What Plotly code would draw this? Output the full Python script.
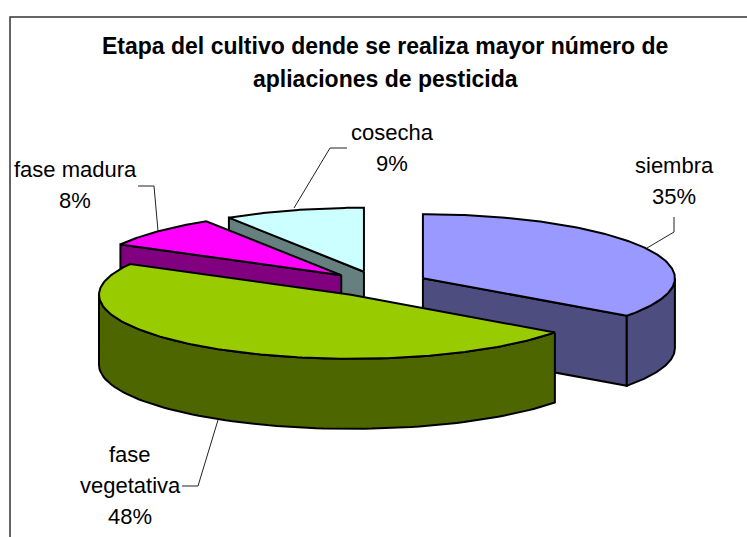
import numpy as np
import plotly.graph_objects as go

categories = ["siembra", "fase vegetativa", "fase madura", "cosecha"]
values = [35, 48, 8, 9]
top_colors = ["#9999FF", "#99CC00", "#FF00FF", "#CCFFFF"]
side_colors = ["#4D4D80", "#4D6600", "#800080", "#668080"]
draw_order = [3, 2, 0, 1]

label_lines = [["siembra"], ["fase", "vegetativa"], ["fase madura"], ["cosecha"]]
label_centers_x = [674, 130, 75, 392]
label_first_y = [165, 454, 169, 132]
line_gap = 31
leaders_x = [[674, 674, 647], [182, 198, 218], [138, 154, 158], [347, 330, 294]]
leaders_y = [[217, 232, 248], [486, 486, 420], [186, 186, 231], [148, 148, 208]]

title_lines = ["Etapa del cultivo dende se realiza mayor número de", "apliaciones de pesticida"]
title_y = [46, 79]
title_x = 385

FONT = "Liberation Sans"
CX, CY, A, B, DEPTH, EXPLODE = 378, 284, 252, 64, 70, 0.2
W, H = 747, 537

total = sum(values)
edges = np.concatenate([[0], np.cumsum(values)]) / total * 2 * np.pi


def rim(theta, cx, cy):
    return cx + A * np.sin(theta), cy - B * np.cos(theta)


fig = go.Figure()


def poly(xs, ys, color, name):
    fig.add_trace(go.Scatter(
        x=list(xs), y=list(ys), mode="lines", fill="toself", fillcolor=color,
        line=dict(color="black", width=2), hoverinfo="name", name=name, showlegend=False,
    ))


for i in draw_order:
    t0, t1 = edges[i], edges[i + 1]
    mid = (t0 + t1) / 2
    cx, cy = rim(mid, CX, CY)
    cx = CX + EXPLODE * (cx - CX)
    cy = CY + EXPLODE * (cy - CY)
    name = categories[i]
    # flat cut faces that look towards the viewer
    for t, visible in ((t0, np.sin(t0) < -1e-6), (t1, np.sin(t1) > 1e-6)):
        if visible:
            rx, ry = rim(t, cx, cy)
            poly([cx, rx, rx, cx, cx], [cy, ry, ry + DEPTH, cy + DEPTH, cy], side_colors[i], name)
    # outer wall: front half of the ellipse only
    lo, hi = max(t0, np.pi / 2), min(t1, 3 * np.pi / 2)
    if hi > lo:
        ts = np.linspace(lo, hi, 80)
        wx, wy = rim(ts, cx, cy)
        poly(np.r_[wx, wx[::-1], wx[0]], np.r_[wy, wy[::-1] + DEPTH, wy[0]], side_colors[i], name)
    # top face
    ts = np.linspace(t0, t1, 160)
    tx, ty = rim(ts, cx, cy)
    poly(np.r_[cx, tx, cx], np.r_[cy, ty, cy], top_colors[i], name)

annotations = []


def text(x, y, s, size, bold=False):
    annotations.append(dict(
        x=x, y=y, xref="x", yref="y", text=f"<b>{s}</b>" if bold else s, showarrow=False,
        xanchor="center", yanchor="middle",
        font=dict(family=FONT, size=size, color="black"),
    ))


for lines, x, y0, v in zip(label_lines, label_centers_x, label_first_y, values):
    for k, s in enumerate(lines + [f"{v}%"]):
        text(x, y0 + k * line_gap, s, 22)
for s, y in zip(title_lines, title_y):
    text(title_x, y, s, 23, bold=True)

for lx, ly in zip(leaders_x, leaders_y):
    fig.add_trace(go.Scatter(x=lx, y=ly, mode="lines", line=dict(color="#222222", width=1),
                             hoverinfo="skip", showlegend=False))

# chart frame (open on the right and bottom, cropped like the reference)
fig.add_trace(go.Scatter(x=[10, 10, 747], y=[537, 17, 17], mode="lines",
                         line=dict(color="#333333", width=1.5), hoverinfo="skip", showlegend=False))

fig.update_layout(
    width=W, height=H, margin=dict(l=0, r=0, t=0, b=0),
    paper_bgcolor="white", plot_bgcolor="white",
    xaxis=dict(range=[0, W], visible=False, fixedrange=True),
    yaxis=dict(range=[H, 0], visible=False, fixedrange=True),
    annotations=annotations,
)
fig.write_html("out.html", config={"displayModeBar": False},
               post_script="document.body.style.margin='0';")
